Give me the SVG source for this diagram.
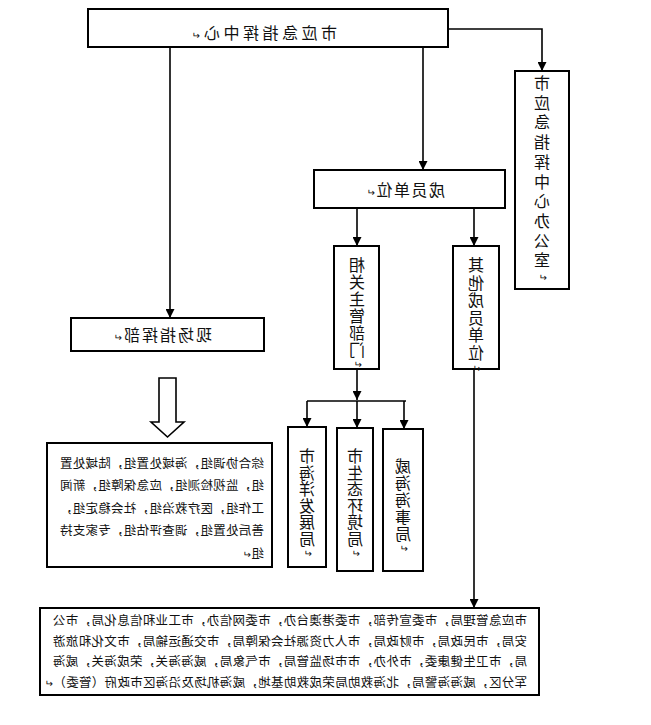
<svg xmlns="http://www.w3.org/2000/svg" width="651" height="725" viewBox="0 0 651 725">
<style>
.box{fill:#fff;stroke:#000;stroke-width:2}
.ln{fill:none;stroke:#000;stroke-width:1.6}
text{font-family:"Noto Sans CJK SC","Noto Sans",sans-serif;fill:#111}
.t16{font-size:16px}
.v{font-size:16px;writing-mode:vertical-rl;text-orientation:upright}
.p{font-size:12.5px}
.pm{font-size:10px}
</style>
<defs>
<marker id="ah" viewBox="0 0 10 10" refX="10" refY="5" markerWidth="9" markerHeight="9" markerUnits="userSpaceOnUse" orient="auto">
<path d="M0,0 L10,5 L0,10 z" fill="#000"/>
</marker>
</defs>
<rect width="651" height="725" fill="#fff"/>
<g transform="matrix(-1 0 0 1 651 0)">
<g id="connectors">
<path class="ln" d="M203,29 H109 V71" marker-end="url(#ah)"/>
<path class="ln" d="M481,47 V318" marker-end="url(#ah)"/>
<path class="ln" d="M228,47 V170" marker-end="url(#ah)"/>
<path class="ln" d="M294,208 V246" marker-end="url(#ah)"/>
<path class="ln" d="M177,208 V246" marker-end="url(#ah)"/>
<path class="ln" d="M294,369 V400" marker-end="url(#ah)"/>
<path class="ln" d="M245,401 H344"/>
<path class="ln" d="M344,401 V427" marker-end="url(#ah)"/>
<path class="ln" d="M294,401 V428" marker-end="url(#ah)"/>
<path class="ln" d="M247,401 V429" marker-end="url(#ah)"/>
<path class="ln" d="M177,369 V608" marker-end="url(#ah)"/>
</g>
<g id="center">
<rect class="box" x="203" y="9" width="360" height="38"/>
<text class="t16" x="314" y="39" letter-spacing="3.5">市应急指挥中心<tspan class="pm">↵</tspan></text>
</g>
<g id="office">
<rect class="box" x="82" y="71" width="54" height="218"/>
<text class="v" x="109" y="75" letter-spacing="3.7">市应急指挥中心办公室<tspan class="pm">↵</tspan></text>
</g>
<g id="field">
<rect class="box" x="387" y="318" width="193" height="33"/>
<text class="t16" x="439" y="341" letter-spacing="2">现场指挥部<tspan class="pm">↵</tspan></text>
</g>
<g id="members">
<rect class="box" x="146" y="170" width="191" height="38"/>
<text class="t16" x="206" y="196" letter-spacing="1.5">成员单位<tspan class="pm">↵</tspan></text>
</g>
<g id="dept">
<rect class="box" x="272" y="246" width="45" height="123"/>
<text class="v" x="294" y="257" letter-spacing="1">相关主管部门<tspan class="pm">↵</tspan></text>
</g>
<g id="others">
<rect class="box" x="152" y="246" width="46" height="123"/>
<text class="v" x="175" y="257" letter-spacing="1.6">其他成员单位<tspan class="pm">↵</tspan></text>
</g>
<g id="ocean">
<rect class="box" x="325" y="427" width="38" height="140"/>
<text class="v" x="344" y="448" letter-spacing="0.6">市海洋发展局<tspan class="pm">↵</tspan></text>
</g>
<g id="eco">
<rect class="box" x="278" y="428" width="36" height="143"/>
<text class="v" x="296" y="448" letter-spacing="0.6">市生态环境局<tspan class="pm">↵</tspan></text>
</g>
<g id="maritime">
<rect class="box" x="228" y="429" width="40" height="142"/>
<text class="v" x="248" y="458" letter-spacing="1">威海海事局<tspan class="pm">↵</tspan></text>
</g>
<g id="hollow-arrow">
<polygon points="475,378 492,378 492,422 500,422 483.5,437 467,422 475,422" fill="#fff" stroke="#000" stroke-width="1.6"/>
</g>
<g id="groups">
<rect class="box" x="379" y="443" width="225" height="124"/>
<text class="p" x="387" y="467.5" textLength="204" lengthAdjust="spacing">综合协调组，海域处置组，陆域处置</text>
<text class="p" x="387" y="490" textLength="204" lengthAdjust="spacing">组，监视检测组，应急保障组，新闻</text>
<text class="p" x="387" y="512.5" textLength="204" lengthAdjust="spacing">工作组，医疗救治组，社会稳定组，</text>
<text class="p" x="387" y="535" textLength="204" lengthAdjust="spacing">善后处置组，调查评估组，专家支持</text>
<text class="p" x="387" y="557.5">组<tspan class="pm">↵</tspan></text>
</g>
<g id="member-list">
<rect class="box" x="112" y="608" width="499" height="87"/>
<text class="p" x="124" y="625" textLength="474" lengthAdjust="spacing">市应急管理局，市委宣传部，市委港澳台办，市委网信办，市工业和信息化局，市公</text>
<text class="p" x="124" y="645.5" textLength="474" lengthAdjust="spacing">安局，市民政局，市财政局，市人力资源社会保障局，市交通运输局，市文化和旅游</text>
<text class="p" x="124" y="666" textLength="474" lengthAdjust="spacing">局，市卫生健康委，市外办，市市场监管局，市气象局，威海海关，荣成海关，威海</text>
<text class="p" x="124" y="686.5" textLength="482" lengthAdjust="spacing">军分区，威海海警局，北海救助局荣成救助基地，威海机场及沿海区市政府（管委）<tspan class="pm">↵</tspan></text>
</g>
</g>
</svg>
